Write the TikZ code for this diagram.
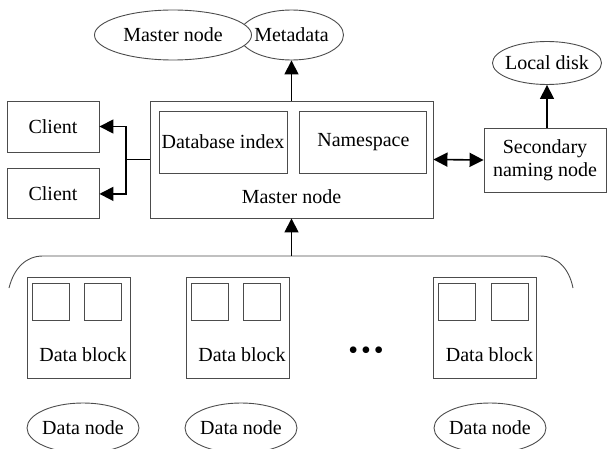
\documentclass[tikz,border=0pt]{standalone}
\usepackage{fontspec}
\setmainfont{Liberation Serif}
\usepackage{tikz}
\usetikzlibrary{calc}
\usetikzlibrary{arrows.meta}
\usetikzlibrary{positioning}
\usetikzlibrary{shapes.geometric}

\begin{document}
\begin{tikzpicture}[x=1pt,y=1pt,font=\fontsize{20}{23}\selectfont]
  \tikzset{myedge/.style={-{Triangle[length=14pt,width=14pt]}, line width=1.6pt}};
  \tikzset{mybox/.style={rectangle, draw=black!70, line width=0.9pt, inner sep=0pt}};
  \tikzset{myoval/.style={ellipse, draw=black!70, line width=0.9pt, inner xsep=-6pt, inner ysep=0pt}};
  \useasboundingbox (0,0) rectangle (607,448);

  \node[mybox, minimum width=283pt, minimum height=117pt] (master) at (291.5,288.5) {};
  \node[mybox, minimum width=128pt, minimum height=62pt] (dbidx) at (223,306) {Database index};
  \node[mybox, minimum width=127pt, minimum height=62pt, right=12pt of dbidx] (namesp) {Namespace};
  \node (mastertxt) at (291.5,251) {Master node};

  \node[mybox, minimum width=92pt, minimum height=51pt] (client1) at (53,321.5) {Client};
  \node[mybox, minimum width=92pt, minimum height=50pt, below=16pt of client1] (client2) {Client};

  \node[mybox, minimum width=122pt, minimum height=64pt, align=center] (second) at (545,288) {Secondary\\naming node};
  \node[myoval, minimum width=109pt, minimum height=43pt] (disk) at (547,385) {Local disk};

  \node[myoval, minimum width=104pt, minimum height=50pt] (metaeli) at (291.5,413) {Metadata};
  \node[myoval, fill=white, minimum width=157pt, minimum height=50pt] (mastereli) at (173,413) {Master node};

  \node[mybox, minimum width=103pt, minimum height=101pt] (blk1) at (78.5,120.5) {};
  \node[mybox, minimum width=103pt, minimum height=101pt] (blk2) at (237.5,120.5) {};
  \node[mybox, minimum width=103pt, minimum height=101pt] (blk3) at (485,120.5) {};
  \node[mybox, minimum size=37pt, below right=6pt and 5pt of blk1.north west] (blk1a) {};
  \node[mybox, minimum size=37pt, right=15pt of blk1a] (blk1b) {};
  \node[mybox, minimum size=37pt, below right=6pt and 5pt of blk2.north west] (blk2a) {};
  \node[mybox, minimum size=37pt, right=15pt of blk2a] (blk2b) {};
  \node[mybox, minimum size=37pt, below right=6pt and 5pt of blk3.north west] (blk3a) {};
  \node[mybox, minimum size=37pt, right=15pt of blk3a] (blk3b) {};
  \node (blk1txt) at ($(blk1.south)+(4.5,24)$) {Data block};
  \node (blk2txt) at ($(blk2.south)+(4.5,24)$) {Data block};
  \node (blk3txt) at ($(blk3.south)+(4.5,24)$) {Data block};
  \node[font=\fontsize{28}{30}\selectfont, inner sep=0pt] (dots) at (366,95) {\textbullet\hspace{3pt}\textbullet\hspace{3pt}\textbullet};

  \node[myoval, minimum width=112pt, minimum height=50pt] (dn1) at (83,20) {Data node};
  \node[myoval, minimum width=112pt, minimum height=50pt] (dn2) at (241,20) {Data node};
  \node[myoval, minimum width=112pt, minimum height=50pt] (dn3) at (490,20) {Data node};

  \draw[draw=black!70, line width=0.9pt] (9,160) .. controls (14,180) and (26,192) .. (43,192)
    -- (540,192) .. controls (557,192) and (569,180) .. (573,160);
  \coordinate (top) at (291.5,192);
  \draw [myedge] (top) -- (master.south);

  \draw [myedge] (master.north) -- (metaeli.south);
  \coordinate (fork) at (126,288.5);
  \draw [line width=1.6pt] (master.west) -- (fork);
  \draw [myedge] (fork) |- (client1.east);
  \draw [myedge] (fork) |- (client2.east);
  \draw [myedge, {Triangle[length=14pt,width=14pt]}-{Triangle[length=14pt,width=14pt]}] (master.east) -- (second.west);
  \draw [myedge] (second.north -| disk) -- (disk.south);
\end{tikzpicture}
\end{document}
